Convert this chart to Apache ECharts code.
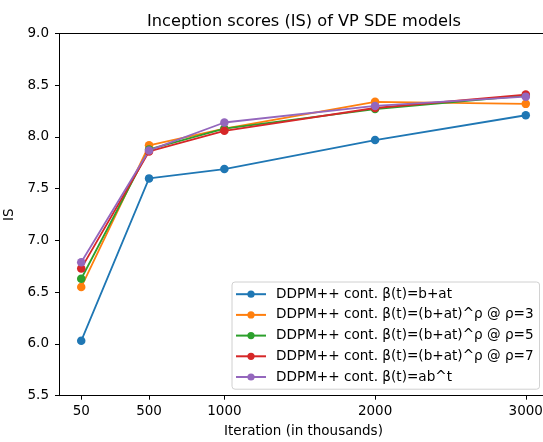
<!DOCTYPE html>
<html>
<head>
<meta charset="utf-8">
<script src="https://cdn.jsdelivr.net/npm/echarts@6/dist/echarts.min.js"></script>
<style>
  html, body { margin: 0; padding: 0; background: #fff; overflow: hidden; }
  #chart { width: 543px; height: 442px; }
</style>
</head>
<body>
<div id="chart"></div>
<script>
// iterations (in thousands)
var iterations = [50, 500, 1000, 2000, 3000];
var yTicks = [5.5, 6.0, 6.5, 7.0, 7.5, 8.0, 8.5, 9.0];

var seriesNames = [
  'DDPM++ cont. β(t)=b+at',
  'DDPM++ cont. β(t)=(b+at)^ρ @ ρ=3',
  'DDPM++ cont. β(t)=(b+at)^ρ @ ρ=5',
  'DDPM++ cont. β(t)=(b+at)^ρ @ ρ=7',
  'DDPM++ cont. β(t)=ab^t'
];
var linearIS = [6.03, 7.60, 7.69, 7.97, 8.21];
var rho3IS   = [6.55, 7.92, 8.08, 8.34, 8.32];
var rho5IS   = [6.63, 7.88, 8.08, 8.27, 8.40];
var rho7IS   = [6.73, 7.86, 8.06, 8.28, 8.41];
var expIS    = [6.79, 7.87, 8.14, 8.30, 8.39];
var colors = ['#1f77b4', '#ff7f0e', '#2ca02c', '#d62728', '#9467bd'];

var allValues = [linearIS, rho3IS, rho5IS, rho7IS, expIS];

var chart = echarts.init(document.getElementById('chart'));

var series = allValues.map(function (vals, i) {
  return {
    name: seriesNames[i],
    type: 'line',
    data: iterations.map(function (x, j) { return [x, vals[j]]; }),
    symbol: 'circle',
    symbolSize: 8.5,
    showAllSymbol: true,
    lineStyle: { color: colors[i], width: 1.8 },
    itemStyle: { color: colors[i] },
    emphasis: { disabled: true },
    animation: false
  };
});

var font = 'DejaVu Sans';
var fs = 13.5;

var option = {
  color: colors,
  animation: false,
  title: {
    text: 'Inception scores (IS) of VP SDE models',
    left: 299,
    textAlign: 'center',
    top: 9,
    textStyle: { fontFamily: font, fontSize: 16.2, fontWeight: 'normal', color: '#000' }
  },
  grid: {
    left: 59,
    top: 33.5,
    right: -5,
    bottom: 46.3,
    show: false,
    containLabel: false,
    outerBoundsMode: 'none'
  },
  // mask the strip beyond the visible plot edge (matplotlib's right spine is cropped off)
  graphic: [{
    type: 'rect',
    right: 0,
    top: 34.5,
    shape: { width: 3, height: 360 },
    style: { fill: '#fff' },
    z: 100
  }],
  legend: {
    orient: 'vertical',
    left: 232,
    top: 282,
    itemWidth: 30,
    itemHeight: 9,
    itemGap: 6.3,
    padding: [5, 6, 5, 3],
    backgroundColor: 'rgba(255,255,255,0.85)',
    borderColor: '#d0d0d0',
    borderWidth: 1,
    borderRadius: 3,
    textStyle: { fontFamily: font, fontSize: 13.6, color: '#000', lineHeight: 14.4, padding: [0, 0, 0, 5] },
    data: seriesNames
  },
  xAxis: [{
    type: 'value',
    min: -97.5,
    max: 3147.5,
    name: 'Iteration (in thousands)',
    nameLocation: 'middle',
    nameGap: 29,
    nameTextStyle: { fontFamily: font, fontSize: fs, color: '#000' },
    axisLine: { show: true, onZero: false, lineStyle: { color: '#000', width: 1 } },
    axisTick: { show: true, length: 4, customValues: iterations, lineStyle: { color: '#000' } },
    axisLabel: {
      customValues: iterations, fontFamily: font, fontSize: fs, color: '#000', margin: 9,
      formatter: function (v) { return String(v); }
    },
    splitLine: { show: false }
  }, {
    // top spine only
    type: 'value',
    position: 'top',
    min: -97.5,
    max: 3147.5,
    axisLine: { show: true, onZero: false, lineStyle: { color: '#000', width: 1 } },
    axisTick: { show: false },
    axisLabel: { show: false },
    splitLine: { show: false }
  }],
  yAxis: {
    type: 'value',
    min: 5.5,
    max: 9.0,
    interval: 0.5,
    name: 'IS',
    nameLocation: 'middle',
    nameGap: 5,
    nameTextStyle: { fontFamily: font, fontSize: fs, color: '#000' },
    axisLine: { show: true, onZero: false, lineStyle: { color: '#000', width: 1 } },
    axisTick: { show: true, length: 4, lineStyle: { color: '#000' } },
    axisLabel: {
      fontFamily: font, fontSize: fs, color: '#000', margin: 10,
      formatter: function (v) { return v.toFixed(1); }
    },
    splitLine: { show: false }
  },
  series: series
};

chart.setOption(option);
</script>
</body>
</html>
